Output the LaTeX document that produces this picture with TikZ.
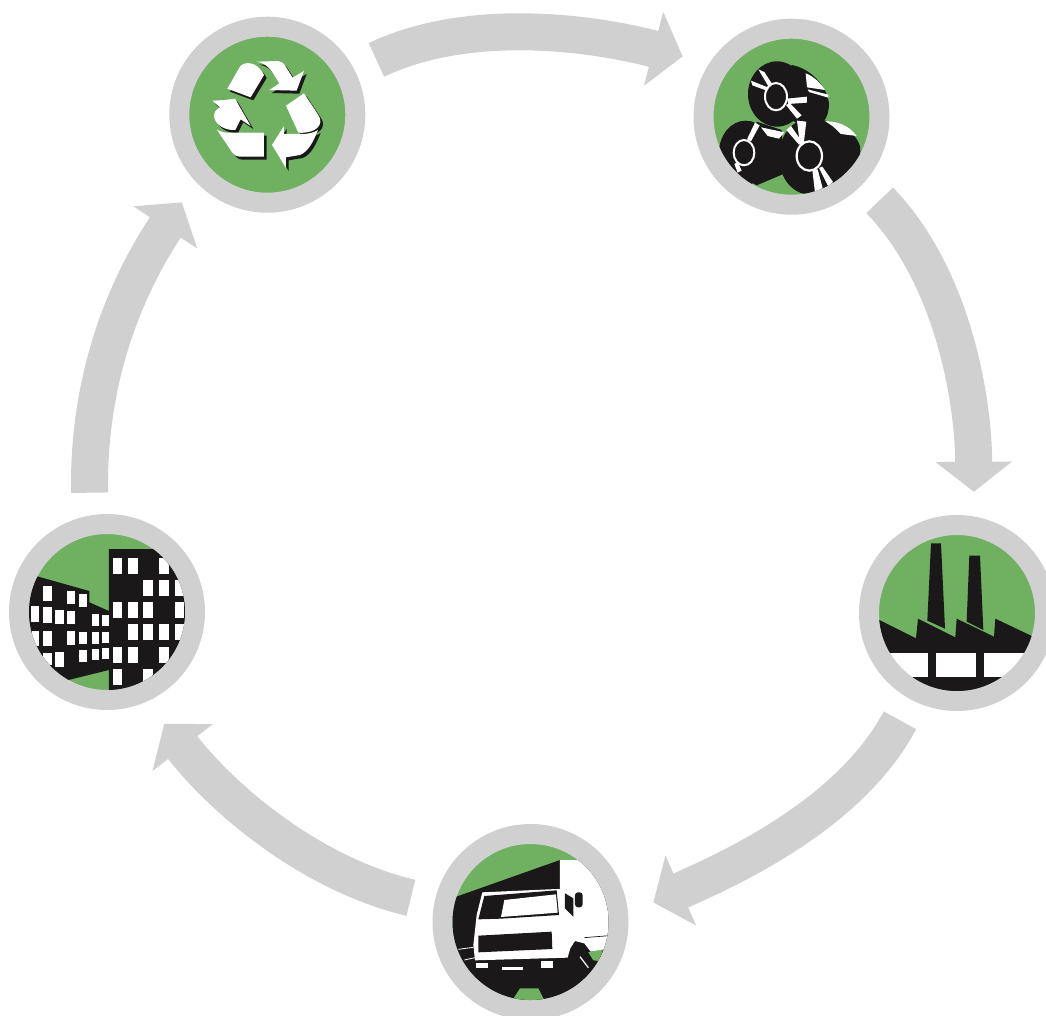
\documentclass[tikz,border=0pt]{standalone}
\usetikzlibrary{arrows.meta}
\definecolor{ringgray}{RGB}{208,208,208}
\definecolor{leaf}{RGB}{111,176,97}
\definecolor{ink}{RGB}{26,24,24}
\tikzset{
  station/.style={circle,draw=ringgray,line width=20pt,fill=leaf,minimum size=176pt,inner sep=0pt},
  flow/.style={draw=ringgray,line width=37pt,line cap=butt,-{Triangle[length=30pt,width=75pt]}},
  icon/.style={x=0.3333pt,y=-0.3333pt}
}
\newcommand{\recyclepaths}[1]{%
  \fill[#1] (202,236)--(240,170) .. controls (250,155) and (290,150) .. (312,195)--(272,262)--cycle;
  \fill[#1] (290,155)--(352,153) .. controls (365,155) and (370,158) .. (376,168)--(398,203)--(432,183)--(410,242)--(328,240)--(358,220)--(335,183) .. controls (325,170) and (310,158) .. (290,155)--cycle;
  \fill[#1] (378,287)--(432,250)--(475,315) .. controls (495,345) and (465,372) .. (415,368)--cycle;
  \fill[#1] (372,348)--(372,372)--(425,372) .. controls (445,372) and (462,368) .. (474,360) .. controls (460,395) and (445,425) .. (420,435)--(378,442)--(378,474)--(336,405)--cycle;
  \fill[#1] (170,358) .. controls (180,365) and (190,368) .. (205,368)--(312,368)--(312,440)--(245,440) .. controls (230,440) and (225,438) .. (215,425)--cycle;
  \fill[#1] (157,272)--(195,270)--(225,266)--(272,348)--(242,328)--(226,360) .. controls (195,362) and (165,345) .. (162,318) .. controls (162,305) and (170,298) .. (180,292)--cycle;
}
\begin{document}
\begin{tikzpicture}[x=1pt,y=-1pt]
\useasboundingbox (0,0) rectangle (1046,1015);

\node[station] (rec) at (267.3,114.7) {};
\node[station] (steel) at (791.5,116.7) {};
\node[station] (factory) at (957,613) {};
\node[station] (truck) at (530.5,922) {};
\node[station] (city) at (107,612) {};

% connectors
\draw[flow,shorten <=24.1pt,shorten >=27.6pt] (rec.27.2) .. controls (466,17.4) and (585,31) .. (steel.147.8);
\draw[flow,shorten <=23.5pt,shorten >=24.7pt] (steel.-43.8) .. controls (949.5,271.9) and (973.3,391.7) .. (factory.80.4);
\draw[flow,shorten <=23.5pt,shorten >=27.5pt] (factory.-118.8) .. controls (853,808.5) and (745.1,862.4) .. (truck.5.6);
\draw[flow,shorten <=24.1pt,shorten >=28.3pt] (truck.169.6) .. controls (314,875) and (225.7,802.9) .. (city.-66.2);
\draw[flow,shorten <=22.8pt,shorten >=25pt] (city.100.3) .. controls (88,405) and (110,311) .. (rec.-137.1);

% recycling icon
\begin{scope}
\clip (rec.center) circle [radius=78];
\begin{scope}[shift={(160,10)},icon]
  \recyclepaths{ink,shift={(8,9)}}
  \recyclepaths{white}
\end{scope}
\end{scope}

% steel coils icon
\begin{scope}
\clip (steel.center) circle [radius=78];
\begin{scope}[shift={(685,10)},icon]
  % back coil
  \fill[ink] (320,165) .. controls (375,175) and (425,225) .. (432,280) .. controls (432,305) and (425,325) .. (415,335)--(340,345)--(290,300)--cycle;
  \fill[ink] (276,252) ellipse [x radius=87,y radius=98];
  \fill[white] (362,190) .. controls (385,198) and (408,220) .. (420,240)--(366,232)--cycle;
  \fill[white] (368,238)--(430,254)--(430,263)--(372,246)--cycle;
  % lower left coil
  \fill[ink] (215,335)--(290,360)--(300,490)--(215,526)--(170,500)--cycle;
  \fill[ink] (182,428) ellipse [x radius=80,y radius=96];
  % lower right coil
  \fill[ink] (410,330) .. controls (480,340) and (530,385) .. (526,425) .. controls (522,470) and (480,505) .. (430,525)--(400,450)--cycle;
  \fill[ink] (372,440) ellipse [x radius=90,y radius=113];
  \fill[white] (420,333) .. controls (450,334) and (490,342) .. (515,378)--(468,372)--(445,350)--cycle;
  % white gap between the coils
  \fill[white] (228,352)--(298,367)--(282,386)--(248,378)--cycle;
  % top coil rays and hub
  \fill[white] (220,178)--(238,186)--(264,226)--(252,232)--cycle;
  \fill[white] (198,212)--(202,226)--(245,242)--(248,232)--cycle;
  \fill[white] (306,266)--(366,260)--(366,278)--(310,282)--cycle;
  \fill[white] (303,285)--(314,279)--(350,316)--(336,326)--cycle;
  \draw[white,line width=2pt,fill=ink] (273,260) ellipse [x radius=33,y radius=41];
  % left coil rays and hub
  \fill[white] (210,338)--(224,346)--(198,394)--(186,388)--cycle;
  \fill[white] (148,462)--(158,456)--(170,482)--(158,488)--cycle;
  \draw[white,line width=2pt,fill=ink] (177,428) ellipse [x radius=31,y radius=38];
  % right coil rays and hub
  \fill[white] (336,332)--(364,335)--(356,402)--(344,396)--cycle;
  \fill[white] (304,360)--(318,348)--(354,400)--(342,404)--cycle;
  \fill[white] (382,480)--(398,478)--(414,538)--(390,548)--cycle;
  \fill[white] (402,474)--(412,470)--(444,516)--(430,530)--cycle;
  \draw[white,line width=2.2pt,fill=ink] (373,438) ellipse [x radius=38,y radius=44];
\end{scope}
\end{scope}

% factory icon
\begin{scope}
\clip (factory.center) circle [radius=78];
\begin{scope}[shift={(850,510)},icon]
  \fill[ink] (243,100)--(273,100)--(285,356)--(232,332)--cycle;
  \fill[ink] (358,137)--(390,137)--(400,360)--(350,335)--cycle;
  \fill[ink] (84,328)--(198,385)--(204,326)--(316,382)--(320,326)--(432,380)--(436,326)--(560,385)--(560,430)--(84,430)--cycle;
  \fill[white] (84,430) rectangle (560,500);
  \fill[ink] (84,500) rectangle (560,560);
  \fill[ink] (233,428) rectangle (258,502);
  \fill[ink] (378,428) rectangle (402,502);
\end{scope}
\end{scope}

% truck icon
\begin{scope}
\clip (truck.center) circle [radius=78];
\begin{scope}[shift={(425,815)},icon]
  \fill[ink] (80,250)--(405,135)--(560,135)--(560,560)--(80,560)--cycle;
  \fill[leaf] (262,556)--(285,520)--(340,520)--(358,556)--cycle;
  \fill[leaf] (490,412)--(535,402)--(522,438)--(505,436)--cycle;
  \fill[white] (172,232)--(395,222)--(405,222)--(405,135)--(465,135)--(560,215)--(560,395)--(535,403)--(497,410)--(478,385)--(450,378)--(436,400)--(428,428)--(150,436)--(145,390)--(155,300)--cycle;
  \fill[ink] (160,313)--(178,243)--(395,226)--(402,300)--(228,311)--cycle;
  \fill[white] (238,255)--(393,238)--(398,293)--(228,306)--cycle;
  \fill[ink] (160,362)--(380,350)--(382,402)--(160,412)--cycle;
  \fill[ink] (420,235)--(445,250)--(445,305)--(420,280)--cycle;
  \fill[ink,rounded corners=3pt] (450,232) rectangle (473,277);
  \fill[white] (152,443) rectangle (188,460);
  \fill[white] (230,455) rectangle (295,466);
  \fill[white] (348,437) rectangle (385,458);
  \draw[white,line width=0.8pt] (100,403)--(145,397) (118,435)--(150,428);
  \draw[ink,line width=0.7pt] (478,368)--(552,362);
  \draw[white,line width=1.2pt] (465,425)--(490,458);
\end{scope}
\end{scope}

% city icon
\begin{scope}
\clip (city.center) circle [radius=78];
\begin{scope}[shift={(0,505)},icon]
  \fill[ink] (80,210)--(115,215)--(268,258)--(268,292)--(327,318)--(327,495)--(205,525)--(80,470)--cycle;
  \fill[ink] (327,132)--(470,132)--(560,220)--(560,560)--(327,560)--cycle;
  \foreach \xa/\ya/\xb/\yb in {
    338/158/367/206,384/158/413/206,477/158/506/206,
    430/224/460/273,477/224/506/273,524/224/552/273,
    338/292/367/340,384/292/413/340,430/292/460/340,524/292/552/340,
    384/358/413/406,430/358/460/406,477/358/506/406,524/358/552/406,
    338/426/367/474,384/426/413/474,477/426/506/474,
    338/492/367/540,430/492/460/540,
    128/243/155/288,202/258/226/298,236/266/260/305,
    92/304/118/352,128/306/155/354,166/314/192/356,202/318/226/358,276/328/298/362,306/330/327/364,
    95/378/118/424,128/378/155/424,202/378/226/420,236/380/260/418,276/382/298/416,306/382/327/414,
    128/445/155/480,166/442/192/486,236/435/260/472,276/432/298/466,306/430/327/462}
    {\fill[white] (\xa,\ya) rectangle (\xb,\yb);}
\end{scope}
\end{scope}
\end{tikzpicture}
\end{document}
